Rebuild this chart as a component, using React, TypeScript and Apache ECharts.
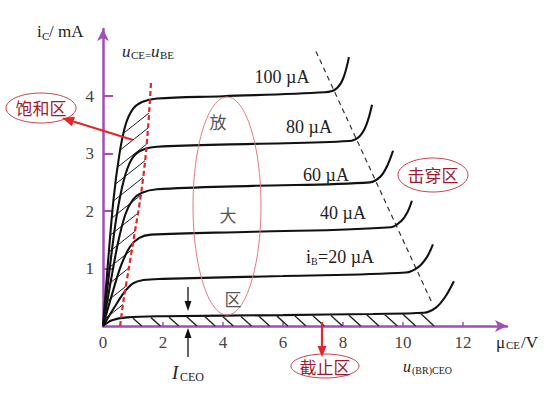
import React, { useEffect, useRef } from "react";
import * as echarts from "echarts";

// ---- data ----
const xTickValues = [0, 2, 4, 6, 8, 10, 12];
const yTickValues = [1, 2, 3, 4];
const ib0 = [[0, 0], [0.3, 0.1], [0.8, 0.15], [2, 0.17], [6, 0.19], [9, 0.21], [10.7, 0.23], [11.1, 0.32], [11.4, 0.5], [11.7, 0.78]];
const ib20 = [[0, 0], [0.35, 0.3], [0.7, 0.58], [1.0, 0.74], [1.35, 0.8], [2, 0.82], [6, 0.87], [10.1, 0.93], [10.5, 1.02], [10.8, 1.2], [11.0, 1.42]];
const ib40 = [[0, 0], [0.3, 0.55], [0.6, 1.05], [0.9, 1.38], [1.2, 1.53], [1.6, 1.59], [5, 1.64], [9.6, 1.72], [9.95, 1.83], [10.15, 1.98], [10.3, 2.18]];
const ib60 = [[0, 0], [0.25, 0.75], [0.5, 1.45], [0.75, 1.95], [1.0, 2.2], [1.3, 2.32], [1.8, 2.38], [5, 2.44], [8.9, 2.5], [9.25, 2.6], [9.47, 2.78], [9.67, 3.05]];
const ib80 = [[0, 0], [0.2, 0.9], [0.45, 1.9], [0.7, 2.55], [0.95, 2.9], [1.25, 3.05], [1.8, 3.12], [5, 3.17], [8.2, 3.22], [8.55, 3.3], [8.78, 3.5], [8.97, 3.85]];
const ib100 = [[0, 0], [0.15, 1.0], [0.35, 2.2], [0.55, 3.0], [0.75, 3.5], [1.0, 3.78], [1.3, 3.9], [1.8, 3.96], [4, 4.0], [7.4, 4.07], [7.75, 4.12], [8.0, 4.3], [8.2, 4.68]];
const ceEqBe = [[0.57, 0], [0.7, 0.5], [0.86, 1.0], [1.05, 1.6], [1.24, 2.2], [1.4, 2.85], [1.51, 3.5], [1.6, 4.23]];
const breakdownLocus = [[7.1, 4.78], [10.97, 0.4]];
const saturationLeft = [[0, 0], [0.15, 1.0], [0.35, 2.2], [0.55, 3.0], [0.75, 3.5], [1.0, 3.78]];
const curveLabels = ["100 µA", "80 µA", "60 µA", "40 µA"];

const SERIF = "'Liberation Serif', 'DejaVu Serif', serif";
const CJK = "'Noto Sans CJK SC', sans-serif";
const PURPLE = "#a24db8";
const RED = "#e3262b";
const DARKRED = "#9c1b2e";

function interp(arr: number[][], x: number) {
  for (let i = 0; i < arr.length - 1; i++) {
    const a = arr[i], b = arr[i + 1];
    if (x >= a[0] && x <= b[0]) {
      const t = (x - a[0]) / (b[0] - a[0] || 1);
      return a[1] + t * (b[1] - a[1]);
    }
  }
  return arr[arr.length - 1][1];
}

function raySeg(p: number[], d: number[], a: number[], b: number[]) {
  const ex = b[0] - a[0], ey = b[1] - a[1];
  const den = d[0] * ey - d[1] * ex;
  if (Math.abs(den) < 1e-9) return null;
  const wx = a[0] - p[0], wy = a[1] - p[1];
  const t = (wx * ey - wy * ex) / den;
  const s = (wx * d[1] - wy * d[0]) / den;
  if (t > 0 && s >= 0 && s <= 1) return [p[0] + t * d[0], p[1] + t * d[1]];
  return null;
}

function txt(text: string, x: number, y: number, size: number, opts: any = {}) {
  return {
    type: "text",
    z: 100,
    x,
    y,
    style: {
      text,
      fill: opts.fill || "#222",
      font: `${opts.italic ? "italic " : ""}${size}px ${opts.family || SERIF}`,
      textAlign: opts.align || "left",
      align: opts.align || "left",
      textVerticalAlign: "middle",
      verticalAlign: "middle",
    },
  };
}

function ellipse(cx: number, cy: number, rx: number, ry: number, stroke: string, lw = 1) {
  return {
    type: "ellipse",
    z: 99,
    shape: { cx, cy, rx, ry },
    style: { fill: "rgba(0,0,0,0)", stroke, lineWidth: lw },
  };
}

function arrow(x1: number, y1: number, x2: number, y2: number, color: string, lw: number, hl: number, hw: number) {
  const L = Math.hypot(x2 - x1, y2 - y1);
  const ux = (x2 - x1) / L, uy = (y2 - y1) / L;
  const bx = x2 - ux * hl, by = y2 - uy * hl;
  const nx = -uy, ny = ux;
  return [
    { type: "line", z: 100, shape: { x1, y1, x2: bx, y2: by }, style: { stroke: color, lineWidth: lw } },
    {
      type: "polygon",
      z: 100,
      shape: { points: [[x2, y2], [bx + nx * hw, by + ny * hw], [bx - nx * hw, by - ny * hw]] },
      style: { fill: color },
    },
  ];
}

export default function App() {
  const ref = useRef<HTMLDivElement>(null);
  useEffect(() => {
    if (!ref.current) return;
    const chart = echarts.init(ref.current, null, { renderer: "svg" });

    const renderHatch = (_params: any, api: any) => {
      const children: any[] = [];
      const y0 = api.coord([0, 0])[1];
      // saturation region hatch
      const left = saturationLeft.map((p) => api.coord(p));
      const right = ceEqBe.map((p) => api.coord(p));
      const topY = api.coord([0, 3.55])[1];
      const d = [24, -19];
      for (let yy = y0 - 6; yy >= topY; yy -= 17) {
        let sx = left[0][0];
        for (let i = 0; i < left.length - 1; i++) {
          const a = left[i], b = left[i + 1];
          if (yy <= a[1] && yy >= b[1]) {
            const t = (a[1] - yy) / (a[1] - b[1]);
            sx = a[0] + t * (b[0] - a[0]);
            break;
          }
        }
        const p = [sx, yy];
        let hit: number[] | null = null;
        for (let i = 0; i < right.length - 1 && !hit; i++) hit = raySeg(p, d, right[i], right[i + 1]);
        if (hit) {
          children.push({ type: "line", shape: { x1: p[0], y1: p[1], x2: hit[0], y2: hit[1] }, style: { stroke: "#222", lineWidth: 1 } });
        }
      }
      // cut-off region hatch
      for (let v = 1.0; v <= 10.65; v += 0.6) {
        const top = api.coord([v, interp(ib0, v)]);
        const dy = y0 - top[1];
        children.push({ type: "line", shape: { x1: top[0], y1: top[1] + 1, x2: top[0] + dy, y2: y0 }, style: { stroke: "#222", lineWidth: 1.4 } });
      }
      return { type: "group", children };
    };

    const curve = (data: number[][]) => ({
      type: "line",
      data,
      smooth: 0.35,
      showSymbol: false,
      symbol: "none",
      lineStyle: { color: "#111", width: 2.1 },
      z: 5,
    });

    const graphics: any[] = [
      // axis names
      txt("i", 37, 31, 17),
      txt("C", 42, 36, 11),
      txt("/ mA", 49, 31, 17),
      txt("μ", 496, 342, 17),
      txt("CE", 506, 345, 11),
      txt("/V", 521, 342, 17),
      // uCE = uBE
      txt("u", 122, 51, 17, { italic: true }),
      txt("CE=", 131, 55, 11),
      txt("u", 151, 51, 17, { italic: true }),
      txt("BE", 160, 55, 11),
      // curve labels
      txt(curveLabels[0], 282, 77, 18, { align: "center" }),
      txt(curveLabels[1], 309, 127, 18, { align: "center" }),
      txt(curveLabels[2], 326, 175, 18, { align: "center" }),
      txt(curveLabels[3], 343, 213, 18, { align: "center" }),
      txt("i", 306, 257, 18),
      txt("B", 311, 261, 10),
      txt("=20 µA", 318, 257, 18),
      // active region
      ellipse(227, 206, 34, 109, "#e07a82", 1),
      txt("放", 218, 121, 17, { family: CJK, align: "center", fill: "#555" }),
      txt("大", 228, 214, 17, { family: CJK, align: "center", fill: "#555" }),
      txt("区", 233, 298, 17, { family: CJK, align: "center", fill: "#555" }),
      // saturation
      ellipse(41, 108, 35, 15, "#c8404c", 1),
      txt("饱和区", 41, 107, 17, { family: CJK, align: "center", fill: DARKRED }),
      ...arrow(133, 140, 62, 118, RED, 2.2, 12, 5),
      // breakdown
      ellipse(433, 175, 35, 17, "#c8404c", 1),
      txt("击穿区", 433, 174, 17, { family: CJK, align: "center", fill: DARKRED }),
      // cutoff
      ellipse(325, 366, 34, 12, "#c8404c", 1),
      txt("截止区", 325, 366, 17, { family: CJK, align: "center", fill: DARKRED }),
      ...arrow(322, 322, 322, 357, RED, 2.2, 11, 4.5),
      // ICEO
      ...arrow(188, 287, 188, 311, "#111", 1.3, 10, 3.5),
      ...arrow(188, 357, 188, 328, "#111", 1.3, 10, 3.5),
      txt("I", 172, 372, 19, { italic: true }),
      txt("CEO", 180, 377, 12),
      // u(BR)CEO
      txt("u", 403, 366, 16, { italic: true }),
      txt("(BR)CEO", 412, 370, 10),
    ];

    chart.setOption({
      animation: false,
      backgroundColor: "#fff",
      grid: { left: 103, right: 53, top: 29, bottom: 70, containLabel: false },
      xAxis: {
        type: "value",
        min: 0,
        max: 13.47,
        interval: 2,
        axisLine: { lineStyle: { color: PURPLE, width: 2.5 }, symbol: ["none", "arrow"], symbolSize: [9, 12] },
        axisTick: { show: true, inside: true, length: 4, customValues: xTickValues, lineStyle: { color: PURPLE, width: 1.5 } },
        axisLabel: { customValues: xTickValues, margin: 8, color: "#444", fontFamily: SERIF, fontSize: 17 },
        splitLine: { show: false },
      },
      yAxis: {
        type: "value",
        min: 0,
        max: 5.17,
        interval: 1,
        axisLine: { show: true, lineStyle: { color: PURPLE, width: 2.5 }, symbol: ["none", "arrow"], symbolSize: [9, 12] },
        axisTick: { show: true, inside: true, length: 10, customValues: yTickValues, lineStyle: { color: PURPLE, width: 2 } },
        axisLabel: { customValues: yTickValues, margin: 9, color: "#444", fontFamily: SERIF, fontSize: 17 },
        splitLine: { show: false },
      },
      series: [
        { type: "custom", renderItem: renderHatch, data: [[0, 0]], silent: true, z: 2, clip: false },
        curve(ib0),
        curve(ib20),
        curve(ib40),
        curve(ib60),
        curve(ib80),
        curve(ib100),
        {
          type: "line",
          data: ceEqBe,
          smooth: 0.3,
          showSymbol: false,
          symbol: "none",
          lineStyle: { color: RED, width: 2.2, type: [5, 3] },
          z: 6,
        },
        {
          type: "line",
          data: breakdownLocus,
          showSymbol: false,
          symbol: "none",
          lineStyle: { color: "#333", width: 1.2, type: [5, 4] },
          z: 4,
        },
      ],
      graphic: graphics,
    });
    return () => chart.dispose();
  }, []);
  return <div ref={ref} style={{ position: "fixed", left: 0, top: 0, width: 560, height: 396 }} />;
}
